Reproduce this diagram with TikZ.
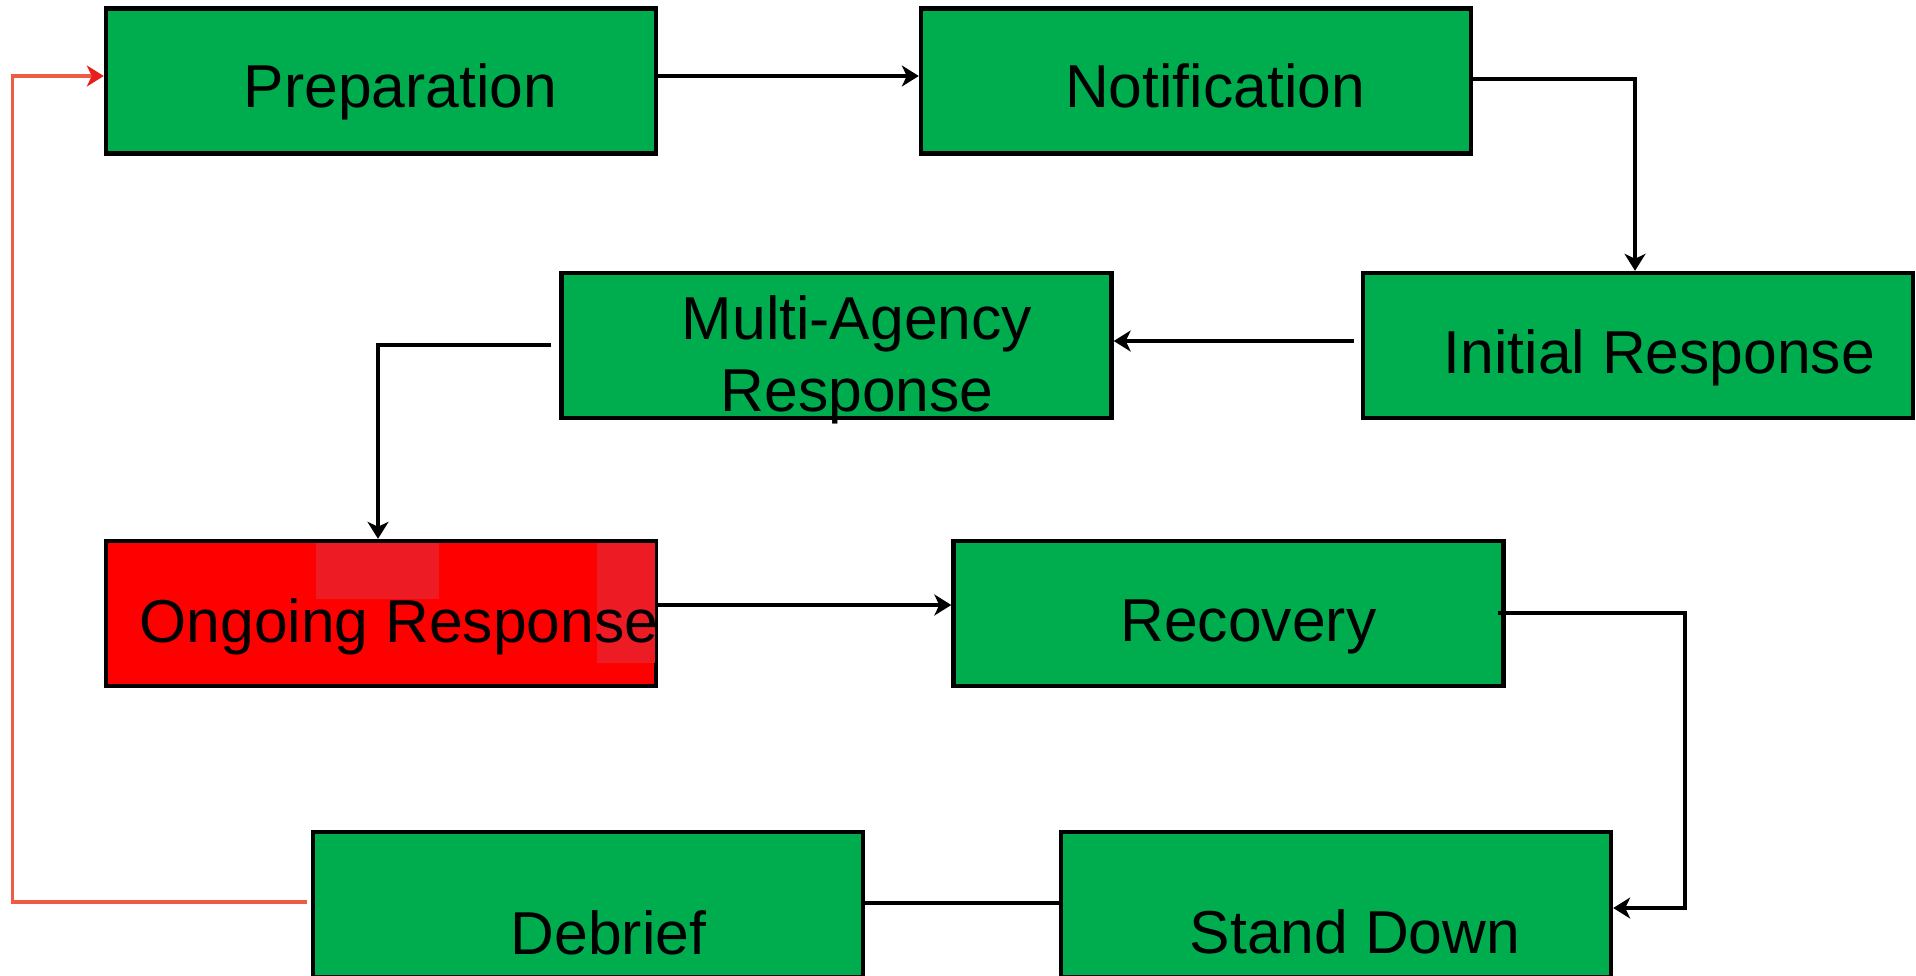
\documentclass[tikz,border=0pt]{standalone}
\usepackage{fontspec}
\setmainfont{Liberation Sans}
\usetikzlibrary{arrows.meta,calc}

\definecolor{stepgreen}{RGB}{0,173,78}
\definecolor{alertred}{RGB}{255,0,0}
\definecolor{alertpatch}{RGB}{237,28,36}
\definecolor{loopline}{RGB}{238,92,68}
\definecolor{looptip}{RGB}{232,30,30}

\tikzset{
  stagebox/.style={draw=black, line width=2.2pt, fill=stepgreen,
    minimum width=275pt, minimum height=72.5pt, inner sep=0pt},
  alertbox/.style={stagebox, fill=alertred},
  stagetext/.style={font=\fontsize{30.3}{36}\selectfont, inner sep=0pt,
    anchor=base, align=center},
  flow/.style={draw=black, line width=2pt,
    -{Stealth[length=8.5pt,width=10.5pt,inset=2.5pt]}},
  plainflow/.style={draw=black, line width=2pt},
  loopflow/.style={draw=loopline, line width=1.8pt,
    -{Stealth[length=8.5pt,width=10.5pt,inset=2.5pt,color=looptip]}}
}

\begin{document}
\begin{tikzpicture}[x=0.5pt,y=-0.5pt]
  \useasboundingbox (0,0) rectangle (1916,975);
  \clip (0,0) rectangle (1916,975);

  % stage boxes
  \node[stagebox] (prep)   at (381,81)     {};
  \node[stagebox] (notif)  at (1196,81)    {};
  \node[stagebox] (init)   at (1638,345.5) {};
  \node[stagebox] (multi)  at (836.5,345.5){};
  \node[alertbox] (ong)    at (381,613.5)  {};
  \node[stagebox] (rec)    at (1228.5,613.5){};
  \node[stagebox] (stand)  at (1336,904.5) {};
  \node[stagebox] (debrief) at (588,904.5) {};

  % lighter patches inside the red box
  \fill[alertpatch] (316,543) rectangle (439,599);
  \fill[alertpatch] (597,543) rectangle (654.5,663);

  % stage labels (multi-line text sits on the baseline of its last line)
  \node[stagetext] (prep-t)    at (400.5,107) {Preparation};
  \node[stagetext] (notif-t)   at (1215,107)  {Notification};
  \node[stagetext] (init-t)    at (1659.5,373){Initial Response};
  \node[stagetext] (multi-t)   at (857,411)   {Multi-Agency\\Response};
  \node[stagetext] (ong-t)     at (399,642)   {Ongoing Response};
  \node[stagetext] (rec-t)     at (1248.5,641){Recovery};
  \node[stagetext] (stand-t)   at (1355,953)  {Stand Down};
  \node[stagetext] (debrief-t) at (608.5,954) {Debrief};

  % connectors
  \draw[flow] (prep.east |- 0,76) -- (notif.west |- 0,76);
  \draw[flow] (notif.east |- 0,79) -| (1635,0 |- init.north);
  \draw[flow] ($(init.west |- 0,341)+(-7,0)$) -- (multi.east |- 0,341);
  \draw[flow] ($(multi.west |- 0,345)+(-8,0)$) -| (378,0 |- ong.north);
  \draw[flow] (ong.east |- 0,605) -- (rec.west |- 0,605);
  \coordinate (recturn) at (1685,613);
  \draw[flow] ($(rec.east |- 0,613)+(-8,0)$) -- (recturn) |- (stand.east |- 0,908);
  \draw[plainflow] (debrief.east |- 0,903) -- (stand.west |- 0,903);
  \coordinate (loopturn) at (12.5,902);
  \draw[loopflow] ($(debrief.west |- 0,902)+(-4,0)$) -- (loopturn) |- (prep.west |- 0,76);
\end{tikzpicture}
\end{document}
